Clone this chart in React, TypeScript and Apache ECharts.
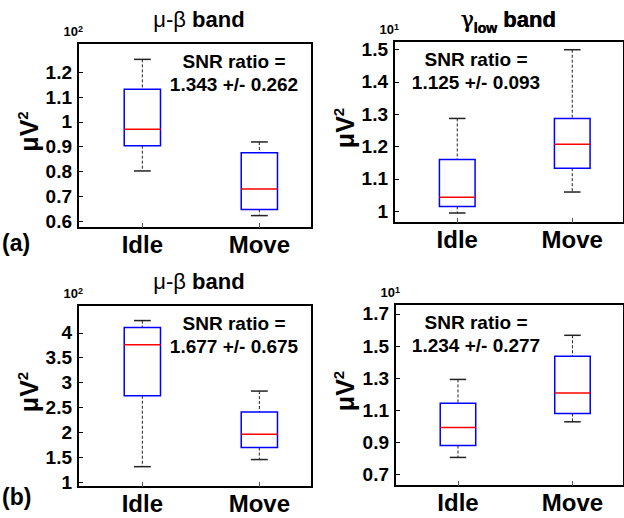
import React, { useEffect, useRef } from "react";
import * as echarts from "echarts";

const FONT = '"Liberation Sans", Arial, Helvetica, sans-serif';

const categories = ["Idle", "Move"];

// [min, q1, median, q3, max]
const aIdle = [0.802, 0.904, 0.970, 1.131, 1.252];
const aMove = [0.622, 0.647, 0.729, 0.875, 0.919];
const bIdle = [0.994, 1.0145, 1.043, 1.160, 1.287];
const bMove = [1.059, 1.133, 1.207, 1.287, 1.500];
const cIdle = [1.309, 2.735, 3.759, 4.106, 4.247];
const cMove = [1.452, 1.693, 1.960, 2.408, 2.829];
const dIdle = [0.806, 0.880, 0.992, 1.144, 1.292];
const dMove = [1.028, 1.080, 1.207, 1.436, 1.567];

const ticksA = [0.6, 0.7, 0.8, 0.9, 1.0, 1.1, 1.2];
const ticksB = [1.0, 1.1, 1.2, 1.3, 1.4, 1.5];
const ticksC = [1, 1.5, 2, 2.5, 3, 3.5, 4];
const ticksD = [0.7, 0.9, 1.1, 1.3, 1.5, 1.7];

const rangeA = [0.572, 1.318];
const rangeB = [0.963, 1.527];
const rangeC = [0.9, 4.56];
const rangeD = [0.628, 1.762];

const snrA = ["SNR ratio =", "1.343 +/- 0.262"];
const snrB = ["SNR ratio =", "1.125 +/- 0.093"];
const snrC = ["SNR ratio =", "1.677 +/- 0.675"];
const snrD = ["SNR ratio =", "1.234 +/- 0.277"];

const exponents = ["2", "1", "2", "1"];

const grids = [
  { left: 78, top: 43, width: 234, height: 185 },
  { left: 394, top: 41, width: 232, height: 182 },
  { left: 78, top: 305, width: 234, height: 182 },
  { left: 395, top: 304, width: 231, height: 182 },
];

const panels = [
  { idle: aIdle, move: aMove, ticks: ticksA, range: rangeA, snr: snrA, gamma: false },
  { idle: bIdle, move: bMove, ticks: ticksB, range: rangeB, snr: snrB, gamma: true },
  { idle: cIdle, move: cMove, ticks: ticksC, range: rangeC, snr: snrC, gamma: false },
  { idle: dIdle, move: dMove, ticks: ticksD, range: rangeD, snr: snrD, gamma: true },
];

function fmt(v: number) {
  return String(parseFloat(Number(v).toFixed(3)));
}

function renderBox(params: any, api: any) {
  const x = api.value(0);
  const mn = api.value(1);
  const q1 = api.value(2);
  const md = api.value(3);
  const q3 = api.value(4);
  const mx = api.value(5);
  const hw = 0.155;
  const cw = 0.072;
  const p = (xx: number, yy: number) => api.coord([xx, yy]);
  const top = p(x - hw, q3);
  const bot = p(x + hw, q1);
  const cMax = p(x, mx);
  const cQ3 = p(x, q3);
  const cQ1 = p(x, q1);
  const cMin = p(x, mn);
  const capL1 = p(x - cw, mx);
  const capR1 = p(x + cw, mx);
  const capL2 = p(x - cw, mn);
  const capR2 = p(x + cw, mn);
  const mL = p(x - hw, md);
  const mR = p(x + hw, md);
  const dash = { stroke: "#222", lineWidth: 1, lineDash: [3, 2] };
  const cap = { stroke: "#222", lineWidth: 1.5 };
  return {
    type: "group",
    children: [
      { type: "line", shape: { x1: cMax[0], y1: cMax[1], x2: cQ3[0], y2: cQ3[1] }, style: dash },
      { type: "line", shape: { x1: cQ1[0], y1: cQ1[1], x2: cMin[0], y2: cMin[1] }, style: dash },
      { type: "line", shape: { x1: capL1[0], y1: capL1[1], x2: capR1[0], y2: capR1[1] }, style: cap },
      { type: "line", shape: { x1: capL2[0], y1: capL2[1], x2: capR2[0], y2: capR2[1] }, style: cap },
      {
        type: "rect",
        shape: { x: top[0], y: top[1], width: bot[0] - top[0], height: bot[1] - top[1] },
        style: { fill: "#fff", stroke: "#0000ff", lineWidth: 1.5 },
      },
      { type: "line", shape: { x1: mL[0], y1: mL[1], x2: mR[0], y2: mR[1] }, style: { stroke: "#ff0000", lineWidth: 1.5 } },
    ],
  };
}

export default function App() {
  const ref = useRef<HTMLDivElement>(null);
  useEffect(() => {
    if (!ref.current) return;
    const chart = echarts.init(ref.current, undefined, { renderer: "svg" });

    const graphic: any[] = [];
    panels.forEach((pn, i) => {
      const g = grids[i];
      const cx = g.left + g.width / 2;
      if (pn.gamma) {
        graphic.push({
          type: "text",
          x: cx - 2,
          y: 19,
          style: {
            text: "{g|γ}{s|low}{b| band}",
            textAlign: "center",
            textVerticalAlign: "middle",
            rich: {
              g: { font: `22px "DejaVu Serif", serif`, fill: "#000", lineHeight: 24 },
              s: { font: `bold 14px ${FONT}`, fill: "#000", lineHeight: 24, verticalAlign: "bottom", padding: [0, 0, -4, 0] },
              b: { font: `bold 22px ${FONT}`, fill: "#000", lineHeight: 24 },
            },
          },
        });
      } else {
        graphic.push({
          type: "text",
          x: cx + 4,
          y: g.top - 24,
          style: {
            text: "{m|μ-β}{b| band}",
            textAlign: "center",
            textVerticalAlign: "middle",
            rich: {
              m: { font: `22px ${FONT}`, fill: "#000", lineHeight: 24 },
              b: { font: `bold 22px ${FONT}`, fill: "#000", lineHeight: 24 },
            },
          },
        });
      }
      graphic.push({
        type: "text",
        x: g.left + 5,
        y: g.top - 4,
        style: {
          text: `{b|10}{s|${exponents[i]}}`,
          textAlign: "right",
          textVerticalAlign: "bottom",
          rich: {
            b: { font: `bold 13px ${FONT}`, fill: "#000", lineHeight: 15 },
            s: { font: `bold 9px ${FONT}`, fill: "#000", lineHeight: 9, verticalAlign: "top" },
          },
        },
      });
      graphic.push({
        type: "text",
        x: i % 2 === 0 ? 29 : 345,
        y: g.top + g.height / 2 - 4,
        rotation: Math.PI / 2,
        style: {
          text: "{b|μV}{s|2}",
          textAlign: "center",
          textVerticalAlign: "middle",
          rich: {
            b: { font: `bold 25px ${FONT}`, fill: "#000", lineHeight: 28 },
            s: { font: `bold 15px ${FONT}`, fill: "#000", lineHeight: 14, verticalAlign: "top" },
          },
        },
      });
      const sx = i % 2 === 0 ? 234 : 476;
      graphic.push({
        type: "text",
        x: sx,
        y: g.top + 18,
        style: { text: pn.snr[0], font: `bold 19px ${FONT}`, fill: "#000", textAlign: "center", textVerticalAlign: "middle" },
      });
      graphic.push({
        type: "text",
        x: sx,
        y: g.top + 41,
        style: { text: pn.snr[1], font: `bold 19px ${FONT}`, fill: "#000", textAlign: "center", textVerticalAlign: "middle" },
      });
    });
    graphic.push({
      type: "text",
      x: 2,
      y: 243,
      style: { text: "(a)", font: `bold 23px ${FONT}`, fill: "#000", textAlign: "left", textVerticalAlign: "middle" },
    });
    graphic.push({
      type: "text",
      x: 2,
      y: 497,
      style: { text: "(b)", font: `bold 23px ${FONT}`, fill: "#000", textAlign: "left", textVerticalAlign: "middle" },
    });

    const option: any = {
      animation: false,
      backgroundColor: "#fff",
      grid: grids.map((g) => ({
        ...g,
        show: true,
        borderColor: "#000",
        borderWidth: 2,
        backgroundColor: "transparent",
        containLabel: false,
      })),
      xAxis: panels.map((_, i) => ({
        type: "value",
        gridIndex: i,
        min: 0.45,
        max: 2.45,
        splitLine: { show: false },
        axisLine: { show: false },
        axisTick: { show: true, inside: true, length: 5, customValues: [1, 2], lineStyle: { color: "#555", width: 1 } },
        axisLabel: {
          show: true,
          customValues: [1, 2],
          margin: 4,
          formatter: (v: number) => categories[Math.round(v) - 1] ?? "",
          fontFamily: FONT,
          fontWeight: "bold",
          fontSize: 24,
          color: "#000",
        },
      })),
      yAxis: panels.map((pn, i) => ({
        type: "value",
        gridIndex: i,
        min: pn.range[0],
        max: pn.range[1],
        splitLine: { show: false },
        axisLine: { show: false },
        axisTick: { show: true, inside: true, length: 5, customValues: pn.ticks, lineStyle: { color: "#000", width: 1 } },
        axisLabel: {
          show: true,
          customValues: pn.ticks,
          margin: 6,
          formatter: (v: number) => fmt(v),
          fontFamily: FONT,
          fontWeight: "bold",
          fontSize: 19,
          color: "#000",
        },
      })),
      series: panels.map((pn, i) => ({
        type: "custom",
        xAxisIndex: i,
        yAxisIndex: i,
        renderItem: renderBox,
        encode: { x: 0, y: [1, 2, 3, 4, 5] },
        data: [
          [1, ...pn.idle],
          [2, ...pn.move],
        ],
        z: 5,
      })),
      graphic,
    };
    chart.setOption(option);
    return () => chart.dispose();
  }, []);
  return <div ref={ref} style={{ width: 624, height: 518, position: "absolute", left: 0, top: 0 }} />;
}
